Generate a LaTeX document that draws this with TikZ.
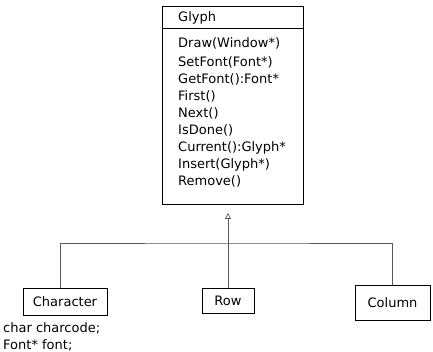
\documentclass[tikz,border=0pt]{standalone}
\usepackage{fontspec}
\setmainfont{DejaVu Sans}
\usetikzlibrary{arrows.meta}
\begin{document}
\begin{tikzpicture}[x=1pt,y=-1pt,
  txt/.style={font=\fontsize{13}{17}\selectfont, inner sep=0pt},
  cls/.style={draw=black, line width=0.9pt, minimum width=#1, inner sep=0pt, txt},
  link/.style={draw=black!65, line width=0.7pt}]
\useasboundingbox (0,0) rectangle (433,352);
% class Glyph: name compartment and operations compartment
\node[draw=black, line width=0.9pt, minimum width=141pt, minimum height=22pt, anchor=north west, inner sep=0pt] (ghead) at (162,6) {};
\node[txt, anchor=west] (gname) at (178,18) {Glyph};
\node[draw=black, line width=0.9pt, minimum width=141pt, minimum height=176pt, anchor=north west, inner sep=0pt] (glyph) at (162,28) {};
\node[txt, anchor=north west, align=left] (gops) at (178,37) {Draw(Window*)\\[2pt]SetFont(Font*)\\GetFont():Font*\\First()\\Next()\\IsDone()\\Current():Glyph*\\Insert(Glyph*)\\Remove()};
% subclasses
\node[cls=84pt, minimum height=27pt] (chr) at (65,301.5) {Character};
\node[cls=52pt, minimum height=25pt] (row) at (228,300.5) {Row};
\node[cls=75pt, minimum height=35pt] (col) at (392.5,302.5) {Column};
\node[txt, anchor=north west, align=left] (attrs) at (3,322) {char charcode;\\Font* font;};
% generalization tree
\coordinate (junc) at (228,243);
\draw[link] ([xshift=-5pt]chr.north) |- (junc) -| (col.north);
\draw[link] (row.north) -- (junc);
\draw[link, -{Triangle[open, length=6pt, width=6pt]}, shorten >=8pt] (junc) -- (glyph.south -| junc);
\end{tikzpicture}
\end{document}
